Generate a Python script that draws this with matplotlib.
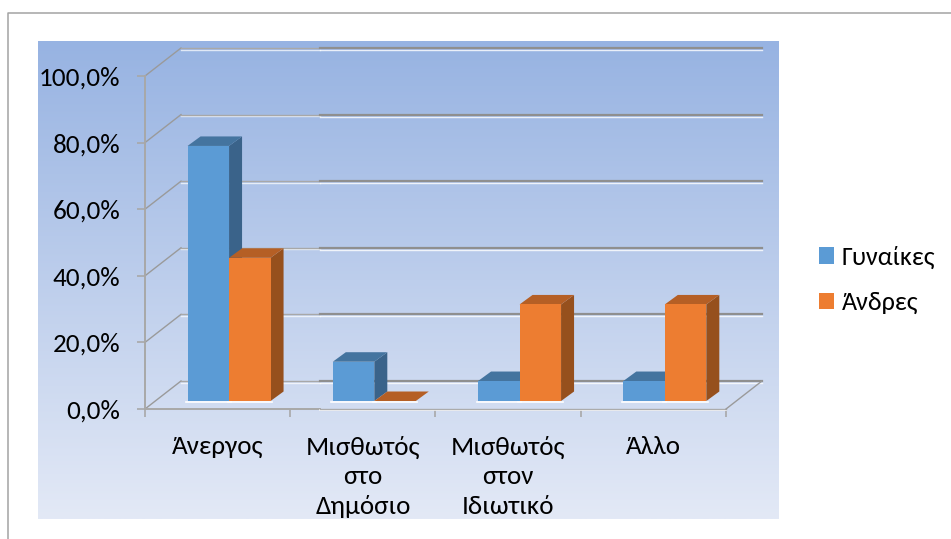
import matplotlib
matplotlib.use("Agg")
import matplotlib.pyplot as plt
import numpy as np
from matplotlib.patches import Patch, Polygon

plt.rcParams['font.family'] = ['Carlito', 'Lato', 'Noto Sans', 'DejaVu Sans']

categories = ["Άνεργος", "Μισθωτός\nστο\nΔημόσιο", "Μισθωτός\nστον\nΙδιωτικό", "Άλλο"]
women = [76.6, 11.8, 6.0, 6.0]
men = [43.0, 0.0, 29.0, 29.0]
y_ticks = [0, 20, 40, 60, 80, 100]
legend_labels = ["Γυναίκες", "Άνδρες"]

W, H = 951, 539
BLUE = ("#5B9BD5", "#44749F", "#3A638A")
ORANGE = ("#ED7D31", "#B55F25", "#96501D")
GRID = "#9A9A9A"

# depth of the fake 3d box, in data units
WALL_DX, WALL_DY = 36 / 145.25, 28 / 3.33
BAR_DX, BAR_DY = 13 / 145.25, 9.5 / 3.33
BAR_W = 41.5 / 145.25
BAR_X0 = 0.293
BAR_Y0 = 2.4
GRID_SPLIT = 1.205


def px_rect(x0, y0, x1, y1):
    return [x0 / W, 1 - y1 / H, (x1 - x0) / W, (y1 - y0) / H]


def draw_bar(ax, x, v, cols):
    b = BAR_Y0
    t = b + v
    front = [(x, b), (x + BAR_W, b), (x + BAR_W, t), (x, t)]
    top = [(x, t), (x + BAR_W, t), (x + BAR_W + BAR_DX, t + BAR_DY), (x + BAR_DX, t + BAR_DY)]
    side = [(x + BAR_W, b), (x + BAR_W + BAR_DX, b + BAR_DY), (x + BAR_W + BAR_DX, t + BAR_DY), (x + BAR_W, t)]
    ax.add_patch(Polygon(side, fc=cols[2], ec='none', zorder=4, clip_on=False))
    ax.add_patch(Polygon(top, fc=cols[1], ec='none', zorder=4, clip_on=False))
    if v > 0:
        ax.add_patch(Polygon(front, fc=cols[0], ec='none', zorder=4, clip_on=False))
    ax.plot([x - 0.01, x + BAR_W + 0.01], [b - 0.2, b - 0.2], color='white', lw=1.2, zorder=4, clip_on=False)


fig = plt.figure(figsize=(W / 100, H / 100), dpi=100, facecolor='white')

# outer frame
fig.add_artist(plt.Line2D([8 / W, 8 / W, 1], [0, 1 - 13 / H, 1 - 13 / H], color="#A3A3A3", lw=1.1))

# gradient panel
bg = fig.add_axes(px_rect(38, 41, 779, 519), zorder=0)
grad = np.linspace(0, 1, 256).reshape(-1, 1)
c0, c1 = np.array([0x97, 0xB3, 0xE2]) / 255, np.array([0xE3, 0xE9, 0xF6]) / 255
bg.imshow(c0 + (c1 - c0) * grad[..., None], aspect='auto')
bg.axis('off')

ax = fig.add_axes(px_rect(145, 76, 726, 409), zorder=1)
ax.patch.set_alpha(0)
n = len(categories)
ax.set_xlim(0, n)
ax.set_ylim(0, 100)
for s in ax.spines.values():
    s.set_visible(False)

# wall, floor and grid
for v in y_ticks:
    ax.plot([0, WALL_DX], [v, v + WALL_DY], color=GRID, lw=1, zorder=2, clip_on=False)
    ax.plot([WALL_DX, GRID_SPLIT], [v + WALL_DY - 0.5] * 2, color='white', lw=1, alpha=0.7, zorder=2, clip_on=False)
    ax.plot([WALL_DX, GRID_SPLIT], [v + WALL_DY] * 2, color="#A8A8A8", lw=1, zorder=2, clip_on=False)
    ax.plot([GRID_SPLIT, n + WALL_DX], [v + WALL_DY - 0.6] * 2, color='white', lw=1, alpha=0.8, zorder=2, clip_on=False)
    ax.plot([GRID_SPLIT, n + WALL_DX], [v + WALL_DY] * 2, color="#8F8F8F", lw=1.6, zorder=2, clip_on=False)
ax.plot([0, 0], [0, 100], color="#A8A8A8", lw=1.4, zorder=2, clip_on=False)
ax.plot([0, GRID_SPLIT], [0, 0], color="#A8A8A8", lw=1.4, zorder=2, clip_on=False)
ax.plot([GRID_SPLIT, n], [-0.4, -0.4], color='white', lw=1.2, zorder=2, clip_on=False)
ax.plot([GRID_SPLIT, n], [0, 0], color="#ABABAB", lw=1, zorder=2, clip_on=False)
ax.plot([n, n + WALL_DX], [0, WALL_DY], color=GRID, lw=1, zorder=2, clip_on=False)

for i in range(n):
    draw_bar(ax, i + BAR_X0, women[i], BLUE)
    draw_bar(ax, i + BAR_X0 + BAR_W, men[i], ORANGE)

ax.set_yticks(y_ticks)
ax.set_yticklabels([f"{v:.1f}%".replace('.', ',') for v in y_ticks], fontsize=19.5)
ax.set_xticks(range(n + 1))
ax.set_xticklabels([])
ax.set_xticks(np.arange(n) + 0.5, categories, minor=True, fontsize=19.5, linespacing=1.36, va='top')
ax.tick_params(axis='y', length=6, width=1.2, color="#A8A8A8", pad=12)
ax.tick_params(axis='x', which='major', length=6, width=1.2, color="#A8A8A8")
ax.tick_params(axis='x', which='minor', length=0, pad=19)

handles = [Patch(fc=BLUE[0], label=legend_labels[0]), Patch(fc=ORANGE[0], label=legend_labels[1])]
fig.legend(handles=handles, loc='center left', bbox_to_anchor=(795 / W, 1 - 280 / H), frameon=False,
           fontsize=18.8, handlelength=0.58, handleheight=0.58, handletextpad=0.3, labelspacing=0.85)

fig.savefig("out.png", dpi=100)
